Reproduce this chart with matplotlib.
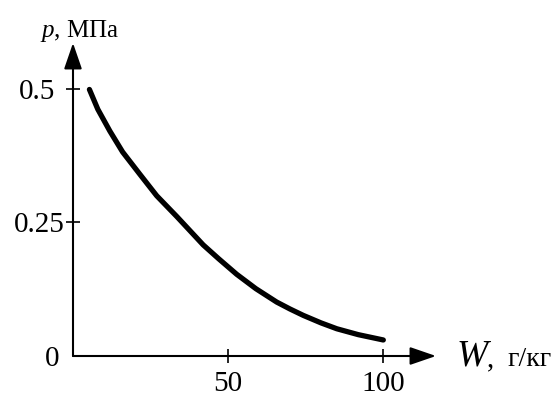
import matplotlib.pyplot as plt

plt.rcParams['font.family'] = ['Liberation Serif', 'DejaVu Serif']
plt.rcParams['mathtext.fontset'] = 'custom'
plt.rcParams['mathtext.rm'] = 'Liberation Serif'
plt.rcParams['mathtext.it'] = 'Liberation Serif:italic'

# curve: W (g/kg) vs p (MPa)
w_vals = [5.3, 8.0, 11.9, 16.0, 21.6, 27.0, 33.5, 42.0, 47.0, 52.8,
          59.0, 65.7, 70.0, 74.3, 80.0, 85.1, 92.0, 100.1]
p_vals = [0.499, 0.462, 0.421, 0.382, 0.340, 0.300, 0.261, 0.208, 0.182, 0.153,
          0.126, 0.101, 0.088, 0.076, 0.062, 0.051, 0.040, 0.030]

x_ticks = [50, 100]
x_labels = ['50', '100']
y_ticks = [0, 0.25, 0.5]
y_labels = ['0', '0.25', '0.5']

fig = plt.figure(figsize=(5.6, 4.05), dpi=100)
ax = fig.add_axes([73/560, 49/405, 363/560, 313/405])
ax.set_xlim(0, 117.1)
ax.set_ylim(0, 0.586)

ax.plot(w_vals, p_vals, color='black', lw=3.8, solid_capstyle='round',
        solid_joinstyle='round')

for s in ax.spines.values():
    s.set_visible(False)

# axes with arrow heads
arr = dict(arrowstyle='-|>,head_length=1.6,head_width=0.55', color='black',
           lw=1.5, shrinkA=0, shrinkB=0, mutation_scale=10)
ax.annotate('', xy=(1, 0), xytext=(0, 0), xycoords='axes fraction', arrowprops=arr)
ax.annotate('', xy=(0, 1), xytext=(0, 0), xycoords='axes fraction', arrowprops=arr)

ax.set_xticks(x_ticks)
ax.set_xticklabels(x_labels, fontsize=21)
ax.set_yticks(y_ticks)
ax.set_yticklabels(y_labels, fontsize=21)
ax.tick_params(axis='both', direction='inout', length=10, width=1.2, color='black')
ax.tick_params(axis='x', pad=6)
for t, pad in zip(ax.yaxis.get_major_ticks(), [4.5, 1.0, 8.0]):
    t.set_pad(pad)
ax.yaxis.get_major_ticks()[0].tick1line.set_visible(False)

fig.text(40/560, 1 - 37/405, r'$\mathit{p}$, МПа', fontsize=18, ha='left', va='baseline')
fig.text(457/560, 1 - 366/405, 'W', fontsize=27, style='italic', ha='left', va='baseline')
fig.text(487/560, 1 - 366/405, ',', fontsize=21, ha='left', va='baseline')
fig.text(507/560, 1 - 366/405, 'г/кг', fontsize=20, ha='left', va='baseline')

fig.savefig('out.png', dpi=100)
